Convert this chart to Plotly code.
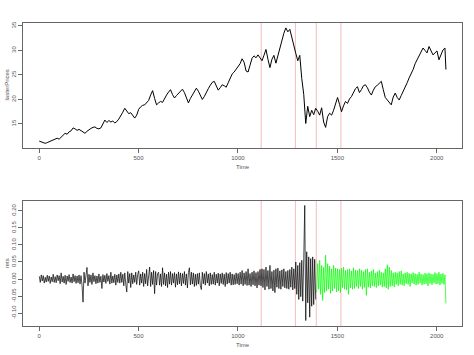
import plotly.graph_objects as go

# ---- data ----
price_time = list(range(1, 2042, 10)) + [2046]
prices = [
    11.5, 11.3, 11.1, 11.05, 11.2, 11.4, 11.5, 11.8, 11.9, 12.1,
    11.9, 12.3, 12.6, 13.1, 12.9, 13.4, 13.6, 14.2, 14.0, 13.7,
    13.9, 13.6, 13.3, 13.1, 13.5, 13.9, 14.1, 14.3, 14.4, 14.1,
    14.0, 14.2, 15.0, 15.8, 15.3, 15.7, 15.4, 15.6, 15.2, 15.5,
    16.0, 16.6, 17.4, 18.2, 17.7, 17.1, 17.3, 16.7, 16.2, 16.8,
    18.0, 18.5, 18.8, 18.9, 19.4, 19.8, 20.9, 21.8, 20.2, 18.9,
    19.3, 19.6, 19.4, 20.3, 20.9, 21.5, 22.0, 21.0, 20.3, 20.8,
    21.3, 21.7, 22.1, 21.4, 20.5, 19.3, 20.2, 21.0, 21.7, 22.3,
    21.7, 20.9, 20.0, 20.6, 21.5, 22.2, 22.9, 23.5, 23.7, 22.6,
    21.9, 22.4, 23.0, 22.8, 22.5, 23.4, 24.5, 25.2, 25.6, 26.2,
    26.7, 27.3, 28.3, 27.6, 25.8, 25.6, 27.0, 28.4, 28.9, 28.5,
    29.1, 28.5, 27.9, 29.0, 30.2, 28.2, 26.5, 28.2, 29.0, 27.4,
    29.0, 30.8, 32.0, 33.5, 34.6, 33.8, 34.3, 32.6, 30.6, 29.4,
    27.9, 29.0, 24.3, 21.0, 15.1, 18.6, 16.5, 17.8, 16.9, 18.2,
    17.6, 16.8, 18.3, 15.4, 14.3, 16.5, 17.2, 16.8, 17.8, 19.3,
    20.4, 19.0, 17.5, 18.7, 19.6, 19.2, 20.1, 20.6, 21.5, 22.2,
    22.6, 21.4, 22.0, 22.8, 23.0, 22.4, 21.5, 20.9, 21.9, 22.6,
    22.9, 23.3, 23.7, 22.0, 20.4, 19.9, 19.4, 18.9, 20.5, 21.3,
    20.4, 19.9, 20.8, 21.6, 22.4, 23.4, 24.4, 25.2, 26.1, 27.3,
    28.1, 29.1, 29.8, 30.5, 30.0, 29.5, 30.8, 30.1, 29.1, 29.5,
    29.9, 28.1, 29.0, 30.1, 30.5, 26.1,
]

rets_black = [
    0.008, -0.010, 0.012, -0.006, 0.010, -0.012, 0.005, -0.009, 0.011, -0.007,
    0.009, -0.013, 0.006, -0.008, 0.014, -0.010, 0.007, -0.011, 0.012, -0.005,
    0.010, -0.014, 0.018, -0.009, 0.008, -0.012, 0.011, -0.016, 0.009, -0.007,
    0.013, -0.010, 0.006, -0.012, 0.015, -0.008, 0.010, -0.013, 0.009, -0.011,
    0.012, -0.015, 0.010, -0.018, -0.068, 0.020, -0.012, 0.016, 0.034, -0.020,
    0.014, -0.010, 0.012, -0.016, 0.018, -0.008, 0.010, -0.014, 0.009, -0.012,
    0.015, -0.010, 0.008, -0.028, 0.013, -0.009, 0.011, -0.013, 0.016, -0.007,
    0.010, -0.015, 0.020, -0.012, 0.009, -0.011, 0.014, -0.018, 0.012, -0.010,
    0.015, -0.012, 0.020, -0.010, 0.014, -0.020, 0.018, -0.015, -0.038, 0.022,
    -0.012, 0.016, -0.025, 0.018, -0.014, 0.012, -0.010, 0.020, -0.016, 0.013,
    0.024, -0.018, 0.015, -0.012, 0.020, -0.022, 0.016, -0.014, 0.028, -0.020,
    0.018, 0.035, -0.022, 0.020, -0.016, 0.025, -0.043, 0.022, -0.018, 0.016,
    0.020, -0.018, 0.015, -0.022, 0.033, -0.016, 0.018, -0.020, 0.014, -0.025,
    0.020, -0.015, 0.022, -0.018, 0.016, -0.012, 0.019, -0.024, 0.015, -0.017,
    0.021, -0.014, 0.018, -0.020, 0.016, -0.013, 0.022, -0.018, 0.015, -0.026,
    0.019, 0.033, -0.017, 0.020, -0.015, 0.018, -0.022, 0.014, -0.019, 0.016,
    -0.015, 0.018, -0.020, -0.031, 0.020, -0.014, 0.016, -0.018, 0.022, -0.012,
    0.015, -0.020, 0.018, -0.016, 0.013, -0.015, 0.020, -0.018, 0.014, -0.012,
    0.017, -0.020, 0.015, -0.013, 0.018, -0.016, 0.014, -0.022, 0.019, -0.015,
    0.016, -0.012, 0.020, -0.018, 0.015, -0.017, 0.013, -0.016, 0.018, -0.014,
    0.016, -0.018, 0.020, -0.015, 0.025, -0.020, 0.018, -0.016, 0.022, -0.019,
    0.030, -0.018, 0.016, -0.022, 0.020, -0.017, 0.024, -0.020, 0.019, -0.026,
    0.022, -0.018, 0.028, -0.020,
    0.030, -0.025, 0.028, -0.032, 0.035, -0.022, 0.025, -0.030, 0.040, -0.028,
    0.022, -0.035, 0.026, -0.040, 0.030, -0.024, 0.032, -0.028, 0.024, -0.030,
    0.027, -0.022, 0.030, -0.026, 0.022, -0.028, 0.025, -0.030, 0.028, -0.024,
    0.035, -0.032, 0.030, -0.028,
    0.050, -0.045, 0.040, -0.060, 0.048, -0.052, 0.055, -0.065,
    0.060, 0.216, -0.122, 0.080, -0.070, 0.065, -0.112, 0.060, -0.080, 0.065,
    -0.075, 0.058, -0.060,
]
rets_green = [
    -0.040, 0.045, -0.030, 0.055, -0.045, 0.040, -0.063, 0.035, -0.040, 0.070,
    -0.035, 0.045, -0.030, 0.038, -0.042, 0.030, -0.035, 0.040, -0.028, 0.032, -0.038,
    0.030, -0.035, 0.028, -0.040, 0.032, -0.025, 0.035, -0.030, 0.025, -0.032,
    0.028, -0.045, 0.030, -0.026, 0.024, -0.030, 0.033, -0.028, 0.026, -0.022,
    0.025, -0.028, 0.030, -0.022, 0.026, -0.030, 0.022, -0.025, 0.028, -0.048,
    0.030, -0.024, 0.020, -0.026, 0.024, -0.020, 0.028, -0.022, 0.018, -0.025,
    0.022, -0.020, 0.026, -0.018, 0.020, -0.024, 0.018, -0.022, 0.030, -0.026,
    0.042, -0.030, 0.035, -0.022, 0.025, -0.020, 0.018, -0.024, 0.020, -0.016,
    0.018, -0.020, 0.022, -0.016, 0.024, -0.018, 0.015, -0.020, 0.018, -0.014,
    0.020, -0.016, 0.017, -0.022, 0.015, -0.012, 0.019, -0.015, 0.016, -0.018,
    0.014, -0.016, 0.020, -0.012, 0.015, -0.018, 0.013, -0.015, 0.017, -0.014,
    0.016, -0.020, 0.018, -0.013, 0.015, -0.017, 0.014, -0.012, 0.019, -0.015,
    0.016, -0.014, 0.020, -0.018, 0.015, -0.013, 0.017, -0.016, 0.012,
    -0.072,
]
rets_black_time = [1 + 5 * i for i in range(len(rets_black))]
rets_green_time = [1396 + 5 * i for i in range(len(rets_green))]

break_times = [1117, 1289, 1394, 1518]
x_ticks = [0, 500, 1000, 1500, 2000]
price_ticks = [15, 20, 25, 30, 35]
ret_ticks = [-0.10, -0.05, 0.00, 0.05, 0.10, 0.15, 0.20]
ret_tick_labels = ["-0.10", "-0.05", "0.00", "0.05", "0.10", "0.15", "0.20"]

FONT = "Liberation Sans"
AX = "#666666"
TXT = "#555555"

fig = go.Figure()
fig.add_trace(go.Scatter(x=price_time, y=prices, mode="lines",
                         line=dict(color="black", width=1), xaxis="x", yaxis="y"))
fig.add_trace(go.Scatter(x=rets_black_time, y=rets_black, mode="lines",
                         line=dict(color="black", width=0.7), xaxis="x2", yaxis="y2"))
fig.add_trace(go.Scatter(x=rets_green_time, y=rets_green, mode="lines",
                         line=dict(color="#00ff00", width=0.7), xaxis="x2", yaxis="y2"))

shapes = []
for xr, yr in (("x", "y"), ("x2", "y2")):
    for bt in break_times:
        shapes.append(dict(type="line", xref=xr, yref=yr + " domain", x0=bt, x1=bt,
                           y0=0, y1=1, line=dict(color="#f5bcbc", width=1), layer="below"))

axis_common = dict(showline=True, mirror=True, linecolor=AX, linewidth=1,
                   ticks="outside", ticklen=4, tickcolor=AX, showgrid=False,
                   zeroline=False, automargin=False,
                   tickfont=dict(family=FONT, size=6, color=TXT))

ytitle_font = dict(family=FONT, size=6, color=TXT)
annotations = [
    dict(text="lasterPrices", xref="paper", yref="y domain", x=0, y=0.5,
         xshift=-16, textangle=-90, showarrow=False, font=ytitle_font,
         xanchor="center", yanchor="middle"),
    dict(text="rets", xref="paper", yref="y2 domain", x=0, y=0.5,
         xshift=-16, textangle=-90, showarrow=False, font=ytitle_font,
         xanchor="center", yanchor="middle"),
]

fig.update_layout(
    width=474, height=355,
    margin=dict(l=23, r=12, t=23, b=29),
    paper_bgcolor="white", plot_bgcolor="white",
    showlegend=False,
    shapes=shapes,
    annotations=annotations,
    font=dict(family=FONT, size=6, color=TXT),
    xaxis=dict(domain=[0, 1], anchor="y", range=[-80.8, 2126.8], tickvals=x_ticks,
               title=dict(text="Time", standoff=4, font=dict(family=FONT, size=6, color=TXT)),
               **axis_common),
    yaxis=dict(domain=[0.5875, 1], anchor="x", range=[10.1, 35.6], tickvals=price_ticks,
               tickangle=-90, **axis_common),
    xaxis2=dict(domain=[0, 1], anchor="y2", range=[-80.8, 2126.8], tickvals=x_ticks,
                title=dict(text="Time", standoff=4, font=dict(family=FONT, size=6, color=TXT)),
                **axis_common),
    yaxis2=dict(domain=[0, 0.4135], anchor="x2", range=[-0.138, 0.230],
                tickvals=ret_ticks, ticktext=ret_tick_labels, tickangle=-90,
                **axis_common),
)

fig.write_html("out.html", config={"displayModeBar": False},
               post_script="document.body.style.margin='0';")
